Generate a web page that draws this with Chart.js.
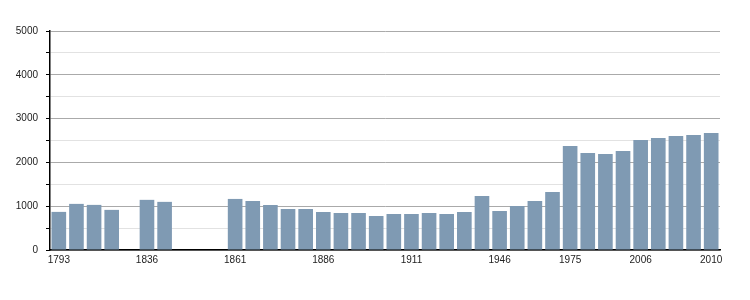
<!DOCTYPE html>
<html>
<head>
<meta charset="utf-8">
<script src="https://cdn.jsdelivr.net/npm/chart.js@4"></script>
<style>
  html, body { margin: 0; padding: 0; background: #fff; }
  #wrap { width: 750px; height: 300px; }
</style>
</head>
<body>
<div id="wrap"><canvas id="popChart"></canvas></div>
<script>
// census years (one slot per year, gaps where no value)
const years = ['1793', '1800', '1806', '1821', '1831', '1836', '1841', '1846', '1851', '1856',
    '1861', '1866', '1872', '1876', '1881', '1886', '1891', '1896', '1901', '1906',
    '1911', '1921', '1926', '1931', '1936', '1946', '1954', '1962', '1968', '1975',
    '1982', '1990', '1999', '2006', '2007', '2008', '2009', '2010'];
const population = [870, 1053, 1030, 916, null, 1145, 1099, null, null, null,
    1166, 1119, 1027, 936, 936, 868, 845, 845, 776, 822,
    822, 845, 822, 868, 1233, 890, 1005, 1119, 1324, 2374,
    2215, 2192, 2260, 2511, 2557, 2603, 2626, 2671];
const shownYears = ['1793', '1836', '1861', '1886', '1911', '1946', '1975', '2006', '2010'];

const barColour = '#7f9ab3';

const ctx = document.getElementById('popChart').getContext('2d');
const chart = new Chart(ctx, {
    type: 'bar',
    data: {
        labels: years,
        datasets: [{
            data: population,
            backgroundColor: barColour,
            borderWidth: 0,
            barPercentage: 0.83,
            categoryPercentage: 1.0
        }]
    },
    options: {
        responsive: true,
        maintainAspectRatio: false,
        animation: false,
        layout: { padding: { top: 31, right: 30, left: 0, bottom: 0 } },
        plugins: { legend: { display: false }, tooltip: { enabled: false } },
        scales: {
            x: {
                grid: { display: false, drawTicks: false },
                border: { color: '#000', width: 1.5 },
                ticks: {
                    autoSkip: false,
                    maxRotation: 0,
                    padding: 4,
                    color: '#222',
                    font: { family: 'Liberation Sans', size: 10 },
                    callback(value) {
                        const y = this.getLabelForValue(value);
                        return shownYears.includes(y) ? y : '';
                    }
                },
                afterFit(scale) { scale.height = 50; }
            },
            y: {
                min: 0,
                max: 5000,
                border: { color: '#000', width: 1.5 },
                grid: {
                    color: c => (c.tick.value % 1000 === 0 ? '#aaaaaa' : '#e2e2e2'),
                    tickColor: '#000',
                    tickLength: 4
                },
                ticks: {
                    stepSize: 500,
                    padding: 8,
                    color: '#222',
                    font: { family: 'Liberation Sans', size: 10 },
                    callback: v => (v % 1000 === 0 ? v : '')
                },
                afterFit(scale) { scale.width = 50; }
            }
        }
    }
});
</script>
</body>
</html>
